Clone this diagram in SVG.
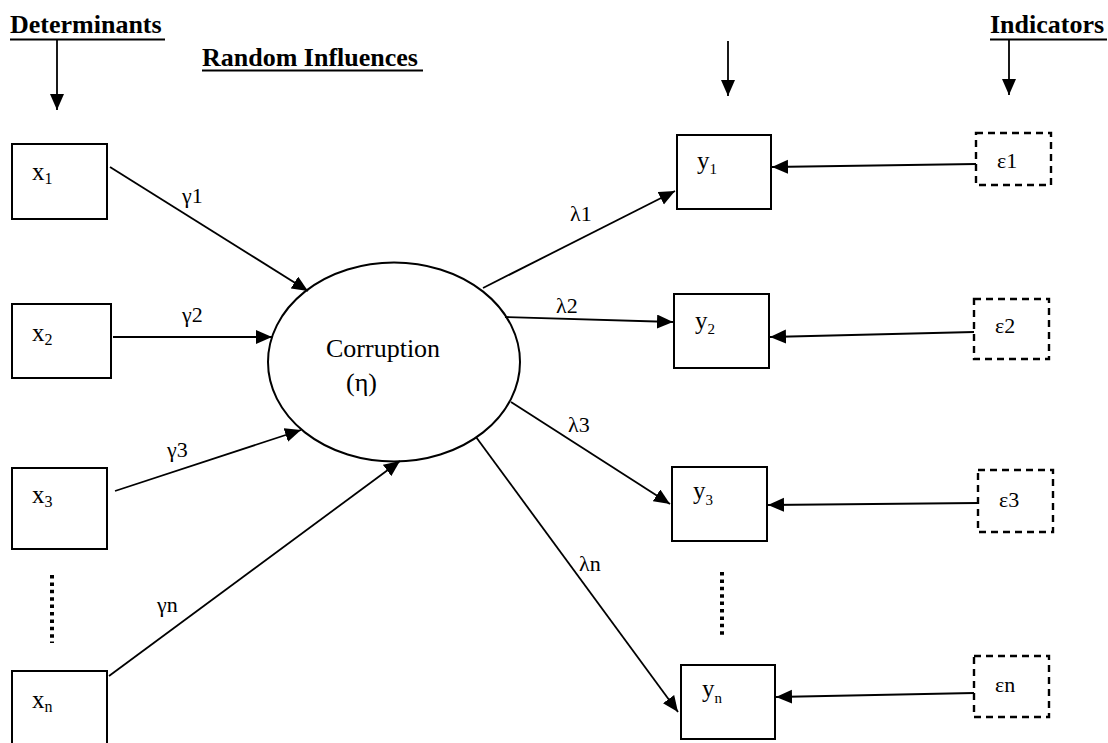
<svg xmlns="http://www.w3.org/2000/svg" width="1108" height="743" viewBox="0 0 1108 743">
<style>
text{font-family:"Liberation Serif","Times New Roman",serif;fill:#000}
.h{font-weight:bold;font-size:26px}
.lbl{font-size:22px}
.nl{font-size:25px}
.sub{font-size:16px}
.box{fill:#fff;stroke:#000;stroke-width:2}
.err{fill:#fff;stroke:#000;stroke-width:2.4;stroke-dasharray:7,5}
.c{stroke:#000;stroke-width:1.8;fill:none}
.ul{stroke:#000;stroke-width:2}
.dots{stroke:#000;stroke-width:4;stroke-dasharray:3.5,3.9}
</style>
<defs>
<marker id="ah" markerUnits="userSpaceOnUse" markerWidth="17" markerHeight="15" refX="16" refY="7" orient="auto">
<path d="M0,0 L16,7 L0,14 z" fill="#000"/>
</marker>
</defs>
<rect width="1108" height="743" fill="#fff"/>

<g id="headings">
<text class="h" x="10" y="33">Determinants</text>
<line class="ul" x1="10" y1="39.5" x2="165" y2="39.5"/>
<text class="h" x="202" y="66">Random Influences</text>
<line class="ul" x1="202" y1="70.5" x2="423" y2="70.5"/>
<text class="h" x="990" y="33">Indicators</text>
<line class="ul" x1="990" y1="39.5" x2="1107" y2="39.5"/>
</g>

<g id="x1"><rect class="box" x="12" y="144" width="95" height="75"/><text class="nl" x="32" y="180">x<tspan class="sub" dy="4">1</tspan></text></g>
<g id="x2"><rect class="box" x="12" y="304" width="99" height="74"/><text class="nl" x="32" y="341">x<tspan class="sub" dy="4">2</tspan></text></g>
<g id="x3"><rect class="box" x="12" y="468" width="95" height="81"/><text class="nl" x="32" y="503">x<tspan class="sub" dy="4">3</tspan></text></g>
<g id="xn"><rect class="box" x="12" y="671" width="95" height="80"/><text class="nl" x="32" y="708">x<tspan class="sub" dy="4">n</tspan></text></g>

<g id="corruption"><ellipse cx="394" cy="362" rx="126" ry="99.5" fill="#fff" stroke="#000" stroke-width="2"/>
<text style="font-size:26px" x="326" y="357">Corruption</text>
<text style="font-size:26px" x="346" y="391">(η)</text></g>

<g id="y1"><rect class="box" x="677" y="135" width="94" height="74"/><text class="nl" x="697" y="169">y<tspan class="sub" style="font-size:15px" dy="5">1</tspan></text></g>
<g id="y2"><rect class="box" x="674" y="294" width="95" height="74"/><text class="nl" x="695" y="329">y<tspan class="sub" style="font-size:15px" dy="5">2</tspan></text></g>
<g id="y3"><rect class="box" x="672" y="467" width="95" height="74"/><text class="nl" x="693" y="499">y<tspan class="sub" style="font-size:15px" dy="6">3</tspan></text></g>
<g id="yn"><rect class="box" x="681" y="665" width="94" height="74"/><text class="nl" x="702" y="697">y<tspan class="sub" style="font-size:15px" dy="6">n</tspan></text></g>

<g id="e1"><rect class="err" x="976" y="133" width="75" height="52"/><text class="lbl" x="997" y="168">ε1</text></g>
<g id="e2"><rect class="err" x="974" y="299" width="75" height="60"/><text class="lbl" x="995" y="333">ε2</text></g>
<g id="e3"><rect class="err" x="978" y="470" width="75" height="62"/><text class="lbl" x="999" y="507">ε3</text></g>
<g id="en"><rect class="err" x="974" y="656" width="75" height="61"/><text class="lbl" x="995" y="692">εn</text></g>

<g id="connectors">
<line class="c" x1="57" y1="40" x2="57" y2="110" marker-end="url(#ah)"/>
<line class="c" x1="728" y1="41" x2="728" y2="96" marker-end="url(#ah)"/>
<line class="c" x1="1009" y1="40" x2="1009" y2="95" marker-end="url(#ah)"/>

<line class="c" x1="110" y1="167" x2="308" y2="291" marker-end="url(#ah)"/>
<line class="c" x1="113" y1="337" x2="272" y2="337" marker-end="url(#ah)"/>
<line class="c" x1="115" y1="491" x2="301" y2="430" marker-end="url(#ah)"/>
<line class="c" x1="109" y1="676" x2="400" y2="461" marker-end="url(#ah)"/>

<line class="c" x1="483" y1="288" x2="675" y2="191" marker-end="url(#ah)"/>
<line class="c" x1="505" y1="317" x2="673" y2="322" marker-end="url(#ah)"/>
<line class="c" x1="511" y1="402" x2="670" y2="504" marker-end="url(#ah)"/>
<line class="c" x1="476" y1="437" x2="678" y2="712" marker-end="url(#ah)"/>

<line class="c" x1="976" y1="164" x2="772" y2="167" marker-end="url(#ah)"/>
<line class="c" x1="974" y1="332" x2="770" y2="337" marker-end="url(#ah)"/>
<line class="c" x1="978" y1="503" x2="768" y2="505" marker-end="url(#ah)"/>
<line class="c" x1="974" y1="693" x2="776" y2="697" marker-end="url(#ah)"/>

<line class="dots" x1="52" y1="575" x2="52" y2="643"/>
<line class="dots" x1="722" y1="572" x2="722" y2="638"/>
</g>

<g id="labels">
<text class="lbl" x="182" y="203">γ1</text>
<text class="lbl" x="182" y="322">γ2</text>
<text class="lbl" x="167" y="457">γ3</text>
<text class="lbl" x="157" y="612">γn</text>
<text class="lbl" x="570" y="221">λ1</text>
<text class="lbl" x="556" y="313">λ2</text>
<text class="lbl" x="568" y="432">λ3</text>
<text class="lbl" x="579" y="571">λn</text>
</g>
</svg>
